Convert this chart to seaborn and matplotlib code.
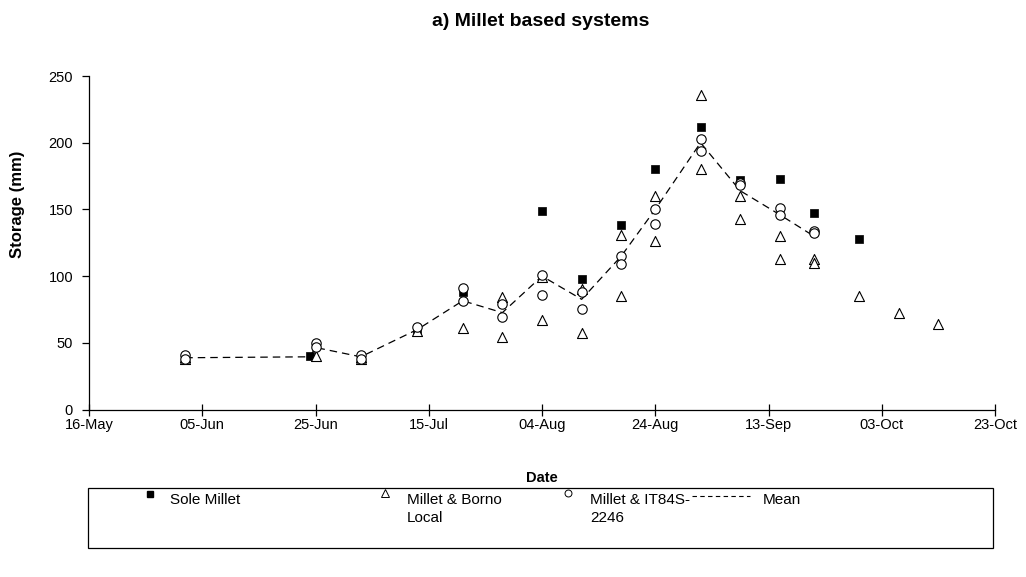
import matplotlib
matplotlib.use("Agg")
import matplotlib.pyplot as plt
import matplotlib.dates as mdates
from matplotlib.lines import Line2D
from matplotlib.patches import Rectangle
import seaborn as sns
import pandas as pd

# ---------------- data ----------------
sole_dates = ["2001-06-24", "2001-07-13", "2001-07-21", "2001-08-04", "2001-08-11", "2001-08-18",
              "2001-08-24", "2001-09-01", "2001-09-08", "2001-09-15", "2001-09-21", "2001-09-29"]
sole_vals = [40, 58, 88, 149, 98, 138, 180, 212, 172, 173, 147, 128]

borno_dates = ["2001-06-02", "2001-06-02", "2001-06-25", "2001-07-03", "2001-07-03", "2001-07-13",
               "2001-07-21", "2001-07-28", "2001-07-28", "2001-08-04", "2001-08-04", "2001-08-11",
               "2001-08-11", "2001-08-18", "2001-08-18", "2001-08-24", "2001-08-24", "2001-09-01",
               "2001-09-01", "2001-09-08", "2001-09-08", "2001-09-15", "2001-09-15", "2001-09-21",
               "2001-09-21", "2001-09-29", "2001-10-06", "2001-10-13"]
borno_vals = [38, 39, 40, 38, 39, 59, 61, 84, 54, 99, 67, 90, 57, 131, 85, 160, 126, 236, 180,
              160, 143, 130, 113, 113, 110, 85, 72.5, 64]

it_dates = ["2001-06-02", "2001-06-02", "2001-06-25", "2001-06-25", "2001-07-03", "2001-07-03",
            "2001-07-13", "2001-07-21", "2001-07-21", "2001-07-28", "2001-07-28", "2001-08-04",
            "2001-08-04", "2001-08-11", "2001-08-11", "2001-08-18", "2001-08-18", "2001-08-24",
            "2001-08-24", "2001-09-01", "2001-09-01", "2001-09-08", "2001-09-08", "2001-09-15",
            "2001-09-15", "2001-09-21", "2001-09-21"]
it_vals = [41, 38, 50, 47, 41, 38, 62, 91, 81, 79, 69, 101, 86, 88, 75, 115, 109, 150, 139,
           203, 194, 170, 168, 151, 146, 134, 132]

mean_dates = ["2001-06-02", "2001-06-24", "2001-06-25", "2001-07-03", "2001-07-13", "2001-07-21",
              "2001-07-28", "2001-08-04", "2001-08-11", "2001-08-18", "2001-08-24", "2001-09-01",
              "2001-09-08", "2001-09-15", "2001-09-21"]
mean_vals = [38.8, 39.5, 46.5, 39.5, 60, 81.5, 72.6, 100, 82.6, 115, 150, 200, 164, 146, 130]

x_start = "2001-05-16"
x_end = "2001-10-23"
tick_step_days = 20
y_ticks = [0, 50, 100, 150, 200, 250]

title = "a) Millet based systems"
labels = ["Sole Millet", "Millet & Borno\nLocal", "Millet & IT84S-\n2246", "Mean"]

# ---------------- frames ----------------
sole = pd.DataFrame({"date": pd.to_datetime(sole_dates), "v": sole_vals})
borno = pd.DataFrame({"date": pd.to_datetime(borno_dates), "v": borno_vals})
it = pd.DataFrame({"date": pd.to_datetime(it_dates), "v": it_vals})
mean = pd.DataFrame({"date": pd.to_datetime(mean_dates), "v": mean_vals})

sns.set_theme(style="white")
plt.rcParams["font.family"] = ["Liberation Sans", "DejaVu Sans"]

W, H = 1026, 577
fig = plt.figure(figsize=(W / 100, H / 100), dpi=100)
ax_l, ax_r, ax_t, ax_b = 89, 995, 76, 409.5
ax = fig.add_axes([ax_l / W, 1 - ax_b / H, (ax_r - ax_l) / W, (ax_b - ax_t) / H])

sns.lineplot(data=mean, x="date", y="v", ax=ax, color="black", lw=0.9,
             dashes=False, linestyle=(0, (6, 4)), zorder=2, estimator=None)
sns.scatterplot(data=sole, x="date", y="v", ax=ax, marker="s", s=36, color="black",
                edgecolor="black", linewidth=0.5, zorder=3)
sns.scatterplot(data=borno, x="date", y="v", ax=ax, marker="^", s=52, facecolor="white",
                edgecolor="black", linewidth=0.8, zorder=4)
sns.scatterplot(data=it, x="date", y="v", ax=ax, marker="o", s=46, facecolor="white",
                edgecolor="black", linewidth=0.8, zorder=5)

xs = pd.Timestamp(x_start)
xe = pd.Timestamp(x_end)
ax.set_xlim(xs, xe)
ax.set_xticks(pd.date_range(xs, xe, freq=f"{tick_step_days}D"))
ax.xaxis.set_major_formatter(mdates.DateFormatter("%d-%b"))
ax.set_ylim(0, 250)
ax.set_yticks(y_ticks)

for s in ["top", "right"]:
    ax.spines[s].set_visible(False)
for s in ["left", "bottom"]:
    ax.spines[s].set_color("black")
    ax.spines[s].set_linewidth(0.9)
ax.tick_params(axis="x", direction="inout", length=8, width=0.9, color="black",
               labelsize=10.5, pad=2.2, bottom=True)
ax.tick_params(axis="y", direction="out", length=5, width=0.9, color="black",
               labelsize=10.5, pad=6.5, left=True)
for lab in ax.get_xticklabels() + ax.get_yticklabels():
    lab.set_color("black")

ax.set_xlabel("Date", fontsize=10.5, fontweight="bold", color="black")
ax.set_ylabel("Storage (mm)", fontsize=12, fontweight="bold", color="black")
ax.xaxis.set_label_coords(0.5, -(478 - ax_b) / (ax_b - ax_t))
ax.yaxis.set_label_coords(-(ax_l - 18) / (ax_r - ax_l), (ax_b - 204) / (ax_b - ax_t))
ax.xaxis.label.set_va("center")
ax.yaxis.label.set_va("center")

fig.text(541 / W, 1 - 22 / H, title, ha="center", va="center", fontsize=14,
         fontweight="bold", color="black")

# ---------------- legend (manual box) ----------------
def fx(x):
    return x / W


def fy(y):
    return 1 - y / H


fig.add_artist(Rectangle((fx(88), fy(548)), fx(993) - fx(88), fy(488) - fy(548),
                         transform=fig.transFigure, fill=False, edgecolor="black", lw=0.9))
mk_y = 494
fig.add_artist(Line2D([fx(150)], [fy(mk_y)], marker="s", markersize=5, color="black",
                      linestyle="none", transform=fig.transFigure))
fig.add_artist(Line2D([fx(385)], [fy(mk_y - 1)], marker="^", markersize=6, markerfacecolor="white",
                      markeredgecolor="black", markeredgewidth=0.7, linestyle="none",
                      transform=fig.transFigure))
fig.add_artist(Line2D([fx(568)], [fy(mk_y - 1)], marker="o", markersize=5, markerfacecolor="white",
                      markeredgecolor="black", markeredgewidth=0.7, linestyle="none",
                      transform=fig.transFigure))
fig.add_artist(Line2D([fx(692), fx(750)], [fy(496), fy(496)], color="black", lw=0.8,
                      linestyle=(0, (4, 3)), transform=fig.transFigure))
text_x = [170, 407, 590, 763]
for tx, lab in zip(text_x, labels):
    fig.text(fx(tx), fy(493), lab, ha="left", va="top", fontsize=11, color="black",
             linespacing=1.4)

fig.savefig("out.png", dpi=100)
